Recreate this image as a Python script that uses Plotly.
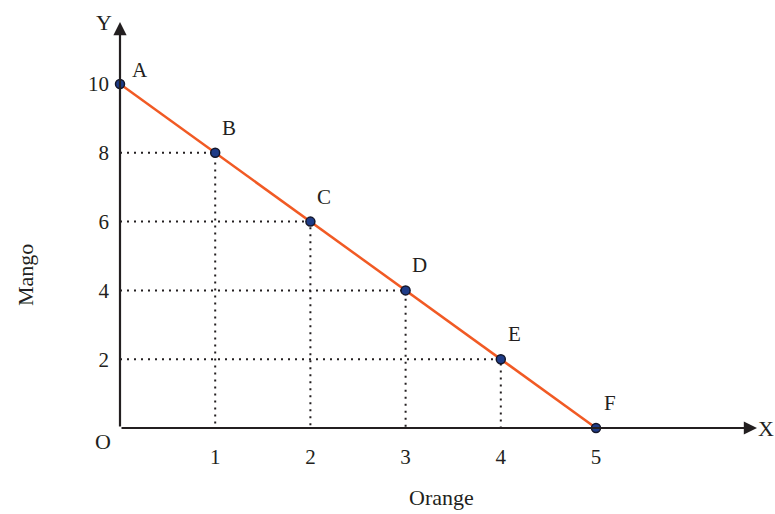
import plotly.graph_objects as go

orange = [0, 1, 2, 3, 4, 5]
mango = [10, 8, 6, 4, 2, 0]
point_labels = ["A", "B", "C", "D", "E", "F"]
x_ticks = [1, 2, 3, 4, 5]
y_ticks = [2, 4, 6, 8, 10]

FONT = "Liberation Serif"
INK = "#231f20"
L, R, T, B = 120, 18, 22, 86
W, H = 775, 514
pw, ph = W - L - R, H - T - B
XMAX = pw / 95.2
YMAX = ph / 34.4

fig = go.Figure()

# dotted guide lines
for xv, yv in zip(orange[1:-1], mango[1:-1]):
    fig.add_trace(go.Scatter(x=[0, xv, xv], y=[yv, yv, 0], mode="lines",
                             line=dict(color=INK, width=2, dash="2px,5px"),
                             hoverinfo="skip", showlegend=False))

fig.add_trace(go.Scatter(x=orange, y=mango, mode="lines",
                         line=dict(color="#f15a24", width=2.5),
                         showlegend=False, cliponaxis=False))
fig.add_trace(go.Scatter(x=orange, y=mango, mode="markers",
                         marker=dict(color="#1f3c88", size=9,
                                     line=dict(color="#14172b", width=1.5)),
                         showlegend=False, cliponaxis=False))

anns = []
for xv, yv, lab in zip(orange, mango, point_labels):
    dx, dy = (20, 14) if lab == "A" else (14, 25)
    anns.append(dict(x=xv, y=yv, xref="x", yref="y", text=lab, showarrow=False,
                     xshift=dx, yshift=dy, font=dict(family=FONT, size=21, color=INK)))

# axes with arrows
anns.append(dict(x=XMAX, y=0, ax=0, ay=0, xref="x", yref="y", axref="x", ayref="y",
                 text="", showarrow=True, arrowhead=2, arrowsize=1.2, arrowwidth=2.2,
                 arrowcolor=INK))
anns.append(dict(x=0, y=YMAX, ax=0, ay=0, xref="x", yref="y", axref="x", ayref="y",
                 text="", showarrow=True, arrowhead=2, arrowsize=1.2, arrowwidth=2.2,
                 arrowcolor=INK))

def px(xp, yp):
    return (xp - L) / pw, (H - B - yp) / ph

for txt, xp, yp, ang in [("X", 766, 428, 0), ("Y", 104, 22, 0), ("O", 103, 441, 0),
                         ("Orange", 441, 497, 0), ("Mango", 25, 275, -90)]:
    xx, yy = px(xp, yp)
    anns.append(dict(x=xx, y=yy, xref="paper", yref="paper", text=txt, showarrow=False,
                     textangle=ang, xanchor="center", yanchor="middle",
                     font=dict(family=FONT, size=22, color=INK)))

fig.update_layout(
    width=W, height=H, margin=dict(l=L, r=R, t=T, b=B),
    plot_bgcolor="white", paper_bgcolor="white",
    annotations=anns,
    xaxis=dict(range=[0, XMAX], showgrid=False, zeroline=False, showline=False,
               tickvals=x_ticks, ticks="", ticklabelstandoff=14,
               tickfont=dict(family=FONT, size=21, color=INK)),
    yaxis=dict(range=[0, YMAX], showgrid=False, zeroline=False, showline=False,
               tickvals=y_ticks, ticks="", ticklabelstandoff=10,
               tickfont=dict(family=FONT, size=21, color=INK)),
)

fig.write_html("out.html", config={"displayModeBar": False},
               post_script="document.body.style.margin='0';")
